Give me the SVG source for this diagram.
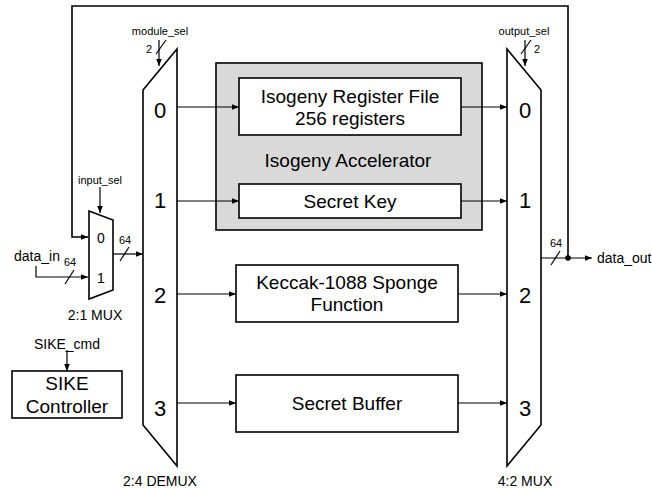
<svg xmlns="http://www.w3.org/2000/svg" width="652" height="489" viewBox="0 0 652 489">
  <defs>
    <marker id="arr" viewBox="0 0 10 10" refX="10" refY="5" markerWidth="7" markerHeight="7" orient="auto" markerUnits="userSpaceOnUse">
      <path d="M0,1 L10,5 L0,9 z" fill="#000"/>
    </marker>
  </defs>
  <style>
    text { font-family: "Liberation Sans", Arial, sans-serif; fill: #000; }
    .box { fill: #fff; stroke: #000; stroke-width: 1.6; }
    .mux { fill: #fff; stroke: #000; stroke-width: 1.6; }
    .wire { fill: none; stroke: #000; stroke-width: 1.2; }
    .bus { fill: none; stroke: #000; stroke-width: 1.6; }
    .big { font-size: 19px; text-anchor: middle; }
    .port { font-size: 22px; text-anchor: middle; }
    .lbl { font-size: 14px; text-anchor: middle; }
    .sm { font-size: 11px; text-anchor: middle; }
  </style>

  <!-- 2:1 input MUX -->
  <g id="mux_in">
    <polygon class="mux" points="89,211 113,220 113,290 89,299"/>
    <text class="lbl" x="101" y="243">0</text>
    <text class="lbl" x="101" y="283">1</text>
    <text class="sm" x="100" y="184">input_sel</text>
    <text class="lbl" x="14" y="261" style="text-anchor:start">data_in</text>
    <text class="lbl" x="95" y="320">2:1 MUX</text>
  </g>

  <!-- 2:4 DEMUX -->
  <g id="demux">
    <polygon class="mux" points="143,90 177,49 177,466 143,425"/>
    <text class="port" x="160" y="118">0</text>
    <text class="port" x="160" y="208">1</text>
    <text class="port" x="160" y="303">2</text>
    <text class="port" x="160" y="416">3</text>
    <text class="sm" x="160" y="35">module_sel</text>
    <text class="lbl" x="160" y="486">2:4 DEMUX</text>
  </g>

  <!-- Isogeny accelerator -->
  <g id="isogeny_accel">
    <rect x="216" y="63" width="266" height="167" fill="#d9d9d9" stroke="#000" stroke-width="1.6"/>
    <text class="big" x="348" y="167">Isogeny Accelerator</text>
  </g>
  <g id="reg_file">
    <rect class="box" x="239" y="78" width="222" height="57"/>
    <text class="big" x="350" y="103">Isogeny Register File</text>
    <text class="big" x="350" y="125">256 registers</text>
  </g>
  <g id="secret_key">
    <rect class="box" x="239" y="184" width="222" height="34"/>
    <text class="big" x="350" y="208">Secret Key</text>
  </g>

  <!-- Keccak -->
  <g id="keccak">
    <rect class="box" x="236" y="265" width="222" height="57"/>
    <text class="big" x="347" y="289">Keccak-1088 Sponge</text>
    <text class="big" x="347" y="311">Function</text>
  </g>

  <!-- Secret buffer -->
  <g id="secret_buffer">
    <rect class="box" x="236" y="375" width="222" height="57"/>
    <text class="big" x="347" y="410">Secret Buffer</text>
  </g>

  <!-- 4:2 output MUX -->
  <g id="mux_out">
    <polygon class="mux" points="507,49 541,90 541,425 507,466"/>
    <text class="port" x="525" y="118">0</text>
    <text class="port" x="525" y="208">1</text>
    <text class="port" x="525" y="303">2</text>
    <text class="port" x="525" y="416">3</text>
    <text class="sm" x="524" y="35">output_sel</text>
    <text class="lbl" x="525" y="486">4:2 MUX</text>
    <text class="lbl" x="597" y="263" style="text-anchor:start">data_out</text>
  </g>

  <!-- SIKE controller -->
  <g id="sike_ctrl">
    <rect class="box" x="12" y="371" width="110" height="47"/>
    <text class="big" x="67" y="390">SIKE</text>
    <text class="big" x="67" y="413">Controller</text>
    <text class="lbl" x="67" y="349">SIKE_cmd</text>
  </g>

  <!-- connectors (drawn last so they sit on top of the shaded block) -->
  <g id="connectors">
    <!-- feedback from data_out back to 2:1 MUX input 0 -->
    <polyline class="bus" points="568,258 568,6 72,6 72,237 88,237" marker-end="url(#arr)"/>
    <!-- data_in to MUX input 1 -->
    <polyline class="wire" points="36,266 36,277 88,277" marker-end="url(#arr)"/>
    <line class="wire" x1="65" y1="284" x2="74" y2="270"/>
    <text class="sm" x="70" y="266">64</text>
    <!-- input_sel -->
    <line class="wire" x1="100" y1="187" x2="100" y2="213" marker-end="url(#arr)"/>
    <!-- MUX output to DEMUX -->
    <line class="wire" x1="113" y1="254" x2="143" y2="254" marker-end="url(#arr)"/>
    <line class="wire" x1="120" y1="261" x2="129" y2="247"/>
    <text class="sm" x="125" y="244">64</text>
    <!-- module_sel -->
    <line class="wire" x1="159" y1="40" x2="159" y2="66" marker-end="url(#arr)"/>
    <line class="wire" x1="156" y1="54" x2="166" y2="40"/>
    <text class="sm" x="149" y="53">2</text>
    <!-- output_sel -->
    <line class="wire" x1="525" y1="40" x2="525" y2="66" marker-end="url(#arr)"/>
    <line class="wire" x1="521" y1="54" x2="531" y2="40"/>
    <text class="sm" x="537" y="53">2</text>
    <!-- DEMUX outputs -->
    <line class="wire" x1="177" y1="107" x2="239" y2="107" marker-end="url(#arr)"/>
    <line class="wire" x1="177" y1="201" x2="239" y2="201" marker-end="url(#arr)"/>
    <line class="wire" x1="177" y1="294" x2="236" y2="294" marker-end="url(#arr)"/>
    <line class="wire" x1="177" y1="403" x2="236" y2="403" marker-end="url(#arr)"/>
    <!-- module outputs into 4:2 MUX -->
    <line class="wire" x1="461" y1="107" x2="507" y2="107" marker-end="url(#arr)"/>
    <line class="wire" x1="461" y1="201" x2="507" y2="201" marker-end="url(#arr)"/>
    <line class="wire" x1="458" y1="294" x2="507" y2="294" marker-end="url(#arr)"/>
    <line class="wire" x1="458" y1="403" x2="507" y2="403" marker-end="url(#arr)"/>
    <!-- data_out -->
    <line class="wire" x1="541" y1="258" x2="592" y2="258" marker-end="url(#arr)"/>
    <line class="wire" x1="551" y1="265" x2="560" y2="251"/>
    <text class="sm" x="556" y="247">64</text>
    <circle cx="568" cy="258" r="2.8" fill="#000"/>
    <!-- SIKE_cmd -->
    <line class="wire" x1="67" y1="350" x2="67" y2="371" marker-end="url(#arr)"/>
  </g>
</svg>
